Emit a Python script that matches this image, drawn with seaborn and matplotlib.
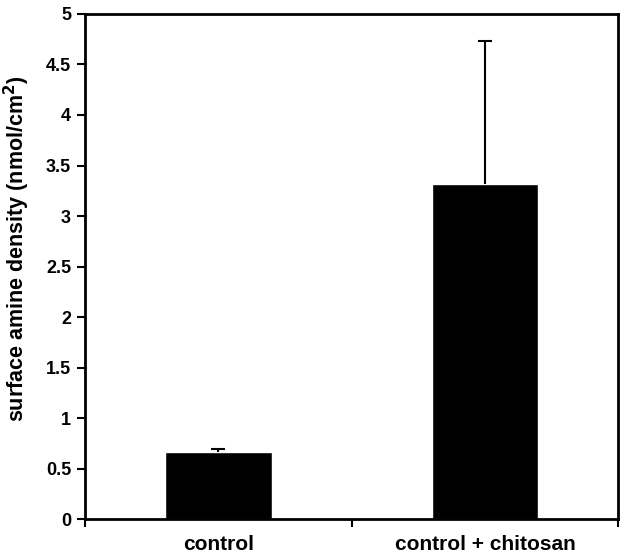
import matplotlib
matplotlib.use("Agg")
import matplotlib.pyplot as plt
import seaborn as sns
import pandas as pd

# data
groups = ["control", "control + chitosan"]
amine = [0.67, 3.32]
err_up = [0.03, 1.41]

df = pd.DataFrame({"group": groups, "amine": amine})

sns.set_style("white")
plt.rcParams["font.family"] = ["Liberation Sans", "DejaVu Sans"]
plt.rcParams["font.weight"] = "bold"
plt.rcParams["text.color"] = "black"
plt.rcParams["axes.labelcolor"] = "black"
plt.rcParams["xtick.color"] = "black"
plt.rcParams["ytick.color"] = "black"

fig = plt.figure(figsize=(6.29, 5.56), dpi=100)
ax = fig.add_axes([0.135, 0.066, 0.848, 0.909])

sns.barplot(data=df, x="group", y="amine", color="black", width=0.4,
            saturation=1, errorbar=None, ax=ax)
# one-sided (upper) error bars
eb = ax.errorbar(range(len(groups)), amine, yerr=[[0, 0], err_up], fmt="none",
                 ecolor="black", elinewidth=1.5, capsize=5, capthick=1.5)
eb[1][0].set_visible(False)

ax.set_xlim(-0.5, 1.5)
ax.set_ylim(0, 5)
ax.set_yticks([0, 0.5, 1, 1.5, 2, 2.5, 3, 3.5, 4, 4.5, 5])
ax.set_yticklabels(["0", "0.5", "1", "1.5", "2", "2.5", "3", "3.5", "4", "4.5", "5"],
                   fontsize=13, fontweight="bold")
ax.set_xticks([0, 1])
ax.set_xticklabels(groups, fontsize=15, fontweight="bold")
ax.set_xticks([-0.5, 0.5, 1.5], minor=True)
ax.tick_params(axis="x", which="major", length=0, pad=11)
ax.tick_params(axis="x", which="minor", length=6, width=1.5, direction="out", bottom=True)
ax.tick_params(axis="y", length=6, width=1.5, direction="out", left=True, pad=4)
ax.set_xlabel("")
ax.set_ylabel("surface amine density (nmol/cm$^\\mathbf{2}$)", fontsize=15.5,
              fontweight="bold")
ax.yaxis.set_label_coords(-0.1, 0.535)
for s in ax.spines.values():
    s.set_color("black")
    s.set_linewidth(2)

fig.savefig("out.png", dpi=100)
